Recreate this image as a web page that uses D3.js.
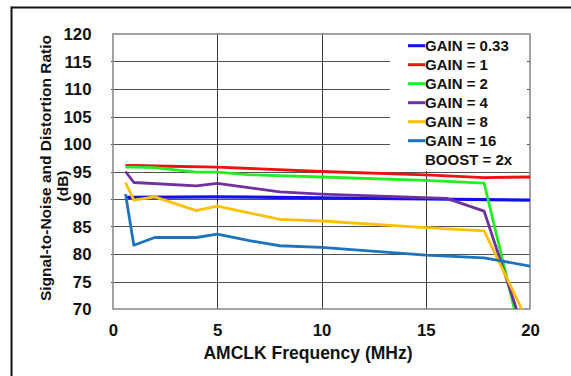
<!DOCTYPE html>
<html>
<head>
<meta charset="utf-8">
<script src="https://cdn.jsdelivr.net/npm/d3@7"></script>
<style>
  html, body { margin: 0; padding: 0; background: #fff; }
  svg { display: block; font-family: "Liberation Sans", Arial, sans-serif; }
</style>
</head>
<body>
<svg id="chart" width="571" height="376"></svg>
<script>
// ---- data ----
const xTicks = [0, 5, 10, 15, 20];
const yTicks = [70, 75, 80, 85, 90, 95, 100, 105, 110, 115, 120];

const seriesNames = ["GAIN = 0.33", "GAIN = 1", "GAIN = 2", "GAIN = 4", "GAIN = 8", "GAIN = 16"];
const seriesColors = ["#1212e8", "#f01010", "#22ee22", "#7030a0", "#ffc000", "#1e73be"];

const freqGain033 = [0.6, 5, 10, 15, 20];
const snrGain033  = [90.3, 90.4, 90.2, 90.0, 89.8];

const freqGain1 = [0.6, 1, 2, 5, 10, 15, 17.8, 20];
const snrGain1  = [96.1, 96.1, 96.0, 95.8, 95.0, 94.4, 93.9, 94.0];

const freqGain2 = [0.6, 1, 2, 4, 5, 6.6, 10, 15, 17.8, 19.25];
const snrGain2  = [95.8, 95.8, 95.7, 94.9, 94.9, 94.4, 94.0, 93.4, 92.9, 70];

const freqGain4 = [0.6, 1, 4, 5, 8, 10, 16, 17.8, 19.35];
const snrGain4  = [95.0, 93.0, 92.4, 92.85, 91.3, 90.9, 90.1, 87.8, 70];

const freqGain8 = [0.6, 1, 2, 4, 5, 8, 10, 15, 17.8, 19.6];
const snrGain8  = [93.0, 89.8, 90.4, 87.9, 88.7, 86.3, 86.0, 84.8, 84.2, 70];

const freqGain16 = [0.6, 1, 2, 4, 5, 6.6, 8, 10, 15, 17.8, 20];
const snrGain16  = [90.9, 81.6, 83.0, 83.0, 83.6, 82.4, 81.5, 81.2, 79.8, 79.3, 77.8];

const legendExtra = "BOOST = 2x";
const xTitle = "AMCLK Frequency (MHz)";
const yTitle1 = "Signal-to-Noise and Distortion Ratio";
const yTitle2 = "(dB)";

const seriesFreq = [freqGain033, freqGain1, freqGain2, freqGain4, freqGain8, freqGain16];
const seriesSnr  = [snrGain033, snrGain1, snrGain2, snrGain4, snrGain8, snrGain16];

// ---- layout ----
const L = 113, R = 530, T = 34, B = 309;
const svg = d3.select("#chart");
const x = d3.scaleLinear().domain([0, 20]).range([L, R]);
const y = d3.scaleLinear().domain([70, 120]).range([B, T]);

// outer border (top & left)
svg.append("line").attr("x1", 11.5).attr("x2", 571).attr("y1", 7.5).attr("y2", 7.5)
  .attr("stroke", "#111").attr("stroke-width", 2);
svg.append("line").attr("x1", 11.5).attr("x2", 11.5).attr("y1", 6.5).attr("y2", 376)
  .attr("stroke", "#111").attr("stroke-width", 2);

// gridlines
const grid = svg.append("g");
grid.selectAll("line.h").data(yTicks.filter(d => d > 70 && d < 120)).enter().append("line")
  .attr("x1", L - 2).attr("x2", R).attr("y1", d => Math.round(y(d)) + 0.5).attr("y2", d => Math.round(y(d)) + 0.5)
  .attr("stroke", "#505050").attr("stroke-width", 1);
grid.selectAll("line.v").data(xTicks.filter(d => d > 0 && d < 20)).enter().append("line")
  .attr("x1", d => Math.round(x(d)) + 0.5).attr("x2", d => Math.round(x(d)) + 0.5).attr("y1", T).attr("y2", B)
  .attr("stroke", "#3a3a3a").attr("stroke-width", 1);

// legend background
svg.append("rect").attr("x", 390).attr("y", T + 1).attr("width", 137).attr("height", 136).attr("fill", "#fff");

// frame
svg.append("rect").attr("x", L).attr("y", T).attr("width", R - L).attr("height", B - T)
  .attr("fill", "none").attr("stroke", "#8c8c8c").attr("stroke-width", 1.6);

// clip
svg.append("clipPath").attr("id", "plotclip").append("rect")
  .attr("x", L).attr("y", T).attr("width", R - L).attr("height", B - T + 1);

const line = d3.line().x(d => x(d[0])).y(d => y(d[1]));
const lines = svg.append("g").attr("clip-path", "url(#plotclip)");
seriesNames.forEach((name, i) => {
  const pts = seriesFreq[i].map((f, j) => [f, seriesSnr[i][j]]);
  lines.append("path").attr("d", line(pts)).attr("fill", "none")
    .attr("stroke", seriesColors[i]).attr("stroke-width", i === 0 ? 3.2 : 2.8)
    .attr("stroke-linejoin", "round");
});

// axes
const yAxis = d3.axisLeft(y).tickValues(yTicks).tickSize(0).tickPadding(21.5);
const gy = svg.append("g").attr("transform", `translate(${L},0)`).call(yAxis);
gy.select(".domain").remove();
gy.selectAll("text").attr("font-size", 16.8).attr("font-weight", "bold").attr("fill", "#111")
  .attr("font-family", "Liberation Sans, Arial, sans-serif").attr("dy", "0.35em");

const xAxis = d3.axisBottom(x).tickValues(xTicks).tickSize(0).tickPadding(15.2);
const gx = svg.append("g").attr("transform", `translate(0,${B})`).call(xAxis);
gx.select(".domain").remove();
gx.selectAll("text").attr("font-size", 16.8).attr("font-weight", "bold").attr("fill", "#111")
  .attr("font-family", "Liberation Sans, Arial, sans-serif");

// titles
svg.append("text").attr("x", 308).attr("y", 359).attr("text-anchor", "middle")
  .attr("font-size", 17.5).attr("font-weight", "bold").attr("fill", "#111").text(xTitle);
svg.append("text").attr("transform", "translate(51,168) rotate(-90)").attr("text-anchor", "middle")
  .attr("font-size", 15.5).attr("font-weight", "bold").attr("fill", "#111").text(yTitle1);
svg.append("text").attr("transform", "translate(68,186) rotate(-90)").attr("text-anchor", "middle")
  .attr("font-size", 15.5).attr("font-weight", "bold").attr("fill", "#111").text(yTitle2);

// legend
const lg = svg.append("g");
seriesNames.forEach((name, i) => {
  const by = 51 + i * 19;
  lg.append("line").attr("x1", 408).attr("x2", 425).attr("y1", by - 5.3).attr("y2", by - 5.3)
    .attr("stroke", seriesColors[i]).attr("stroke-width", 3);
  lg.append("text").attr("x", 425).attr("y", by).attr("font-size", 15).attr("font-weight", "bold")
    .attr("fill", "#111").text(name);
});
lg.append("text").attr("x", 425).attr("y", 51 + 6 * 19).attr("font-size", 15).attr("font-weight", "bold")
  .attr("fill", "#111").text(legendExtra);
</script>
</body>
</html>
